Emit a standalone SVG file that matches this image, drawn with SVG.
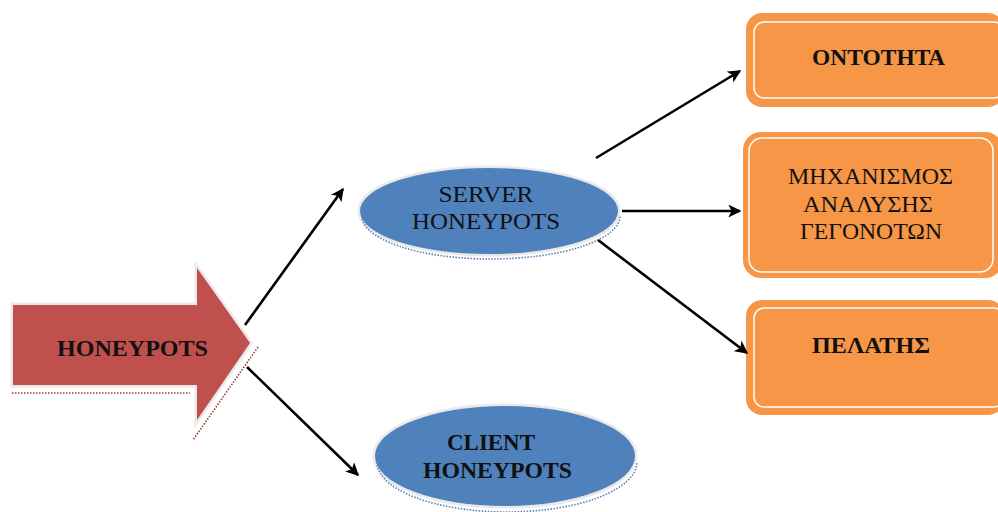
<svg xmlns="http://www.w3.org/2000/svg" width="998" height="512" viewBox="0 0 998 512">
  <defs>
    <marker id="head" viewBox="0 0 10 10" refX="9" refY="5" markerWidth="5" markerHeight="5" markerUnits="strokeWidth" orient="auto">
      <path d="M0,0 L10,5 L0,10 L2.5,5 Z" fill="#000"/>
    </marker>
    <style>
      .lbl { font-family: "Liberation Serif", "Times New Roman", serif; fill: #111; text-anchor: middle; }
      .b { font-weight: bold; }
      .big { font-size: 24px; }
      .box { font-size: 23px; }
      .halo { fill: none; stroke: #e9e9e9; stroke-width: 5; }
      .ell { fill: #4F81BD; }
      .ellshadow { fill: none; stroke: #5b7fb3; stroke-width: 1.6; stroke-dasharray: 1.5 1.5; }
      .card { fill: #F79646; }
      .inner { fill: none; stroke: #ffffff; stroke-width: 1.5; }
      .conn { stroke: #000; stroke-width: 2.6; fill: none; marker-end: url(#head); }
    </style>
  </defs>

  <rect width="998" height="512" fill="#ffffff"/>

  <!-- block arrow -->
  <g id="honeypots">
    <polygon class="halo" points="13,305 197,305 197,268 250,343 197,420 197,385 13,385"/>
    <path d="M12,393 L190,393 M258,347 L193,440" fill="none" stroke="#9c3b38" stroke-width="1.6" stroke-dasharray="1.5 1.5"/>
    <polygon points="13,305 197,305 197,268 250,343 197,420 197,385 13,385" fill="#C0504D"/>
    <text class="lbl b big" x="132.5" y="356" textLength="151" lengthAdjust="spacingAndGlyphs">HONEYPOTS</text>
  </g>

  <!-- server honeypots -->
  <g id="server">
    <ellipse class="halo" cx="489" cy="211" rx="129" ry="43"/>
    <path class="ellshadow" d="M362,216 A129,43 0 0 0 620,216"/>
    <ellipse class="ell" cx="489" cy="211" rx="129" ry="43"/>
    <text class="lbl big" x="486" y="202" textLength="95" lengthAdjust="spacingAndGlyphs">SERVER</text>
    <text class="lbl big" x="486" y="229" textLength="148" lengthAdjust="spacingAndGlyphs">HONEYPOTS</text>
  </g>

  <!-- client honeypots -->
  <g id="client">
    <ellipse class="halo" cx="505" cy="456" rx="130" ry="50"/>
    <path class="ellshadow" d="M377,462 A130,50 0 0 0 637,462"/>
    <ellipse class="ell" cx="505" cy="456" rx="130" ry="50"/>
    <text class="lbl b big" x="491" y="450" textLength="88" lengthAdjust="spacingAndGlyphs">CLIENT</text>
    <text class="lbl b big" x="497.5" y="478" textLength="149" lengthAdjust="spacingAndGlyphs">HONEYPOTS</text>
  </g>

  <!-- right-hand cards -->
  <g id="ontotita">
    <rect class="card" x="746" y="13" width="258" height="94" rx="16"/>
    <rect class="inner" x="754" y="22" width="250" height="76" rx="10"/>
    <text class="lbl b box" x="878.5" y="65" textLength="133" lengthAdjust="spacingAndGlyphs">ΟΝΤΟΤΗΤΑ</text>
  </g>

  <g id="mixanismos">
    <rect class="card" x="743" y="132" width="260" height="146" rx="18"/>
    <rect class="inner" x="749" y="138" width="244" height="134" rx="13"/>
    <text class="lbl box" x="870.5" y="184" textLength="165" lengthAdjust="spacingAndGlyphs">ΜΗΧΑΝΙΣΜΟΣ</text>
    <text class="lbl box" x="868" y="212" textLength="130" lengthAdjust="spacingAndGlyphs">ΑΝΑΛΥΣΗΣ</text>
    <text class="lbl box" x="871" y="239" textLength="142" lengthAdjust="spacingAndGlyphs">ΓΕΓΟΝΟΤΩΝ</text>
  </g>

  <g id="pelatis">
    <rect class="card" x="746" y="300" width="258" height="115" rx="16"/>
    <rect class="inner" x="754" y="308" width="250" height="99" rx="10"/>
    <text class="lbl b box" x="871" y="353" textLength="118" lengthAdjust="spacingAndGlyphs">ΠΕΛΑΤΗΣ</text>
  </g>

  <!-- connectors -->
  <g id="connectors">
    <line class="conn" x1="245" y1="325" x2="343" y2="189"/>
    <line class="conn" x1="247" y1="367" x2="358" y2="475"/>
    <line class="conn" x1="596" y1="158" x2="740" y2="71"/>
    <line class="conn" x1="622" y1="211" x2="740" y2="211"/>
    <line class="conn" x1="598" y1="240" x2="747" y2="353"/>
  </g>
</svg>
